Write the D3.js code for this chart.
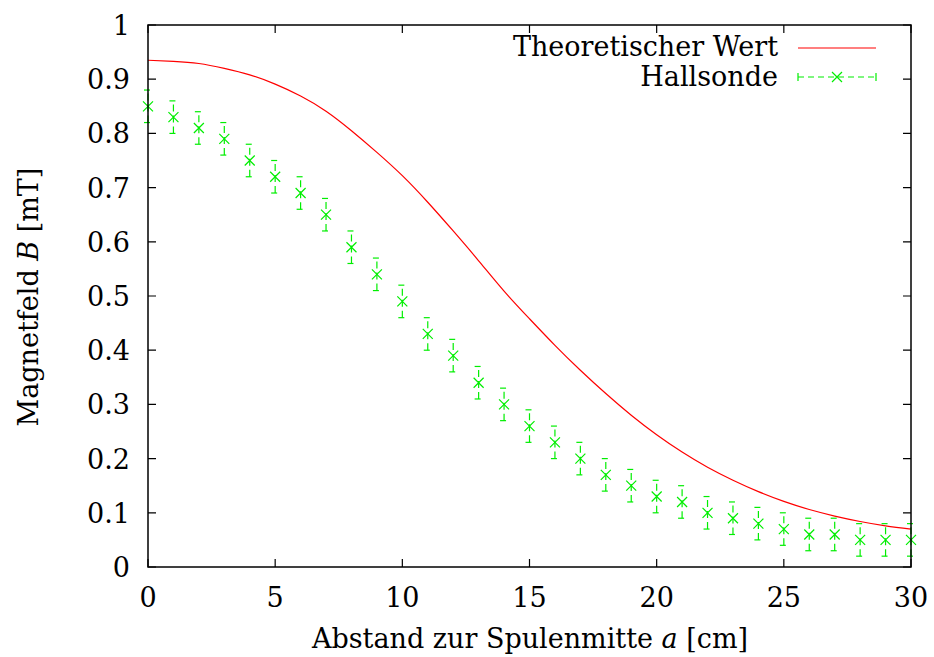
<!DOCTYPE html>
<html>
<head>
<meta charset="utf-8">
<style>
  body { margin: 0; background: #fff; }
</style>
</head>
<body>
<script src="https://cdn.jsdelivr.net/npm/d3@7"></script>
<script>
  // data
  var abstand = [0, 1, 2, 3, 4, 5, 6, 7, 8, 9, 10, 11, 12, 13, 14, 15, 16, 17, 18, 19, 20,
                 21, 22, 23, 24, 25, 26, 27, 28, 29, 30];
  var hallsonde = [0.85, 0.83, 0.81, 0.79, 0.75, 0.72, 0.69, 0.65, 0.59, 0.54, 0.49, 0.43, 0.39,
                   0.34, 0.30, 0.26, 0.23, 0.20, 0.17, 0.15, 0.13, 0.12, 0.10, 0.09, 0.08, 0.07,
                   0.06, 0.06, 0.05, 0.05, 0.05];
  var fehler = 0.03;
  var theorie = [0.935, 0.933, 0.929, 0.920, 0.908, 0.891, 0.869, 0.841, 0.805, 0.765, 0.722,
                 0.673, 0.620, 0.565, 0.509, 0.458, 0.409, 0.363, 0.320, 0.280, 0.244, 0.212,
                 0.184, 0.160, 0.139, 0.121, 0.106, 0.094, 0.084, 0.076, 0.070];
  var xTicks = [0, 5, 10, 15, 20, 25, 30];
  var yTicks = [0, 0.1, 0.2, 0.3, 0.4, 0.5, 0.6, 0.7, 0.8, 0.9, 1];

  var width = 934, height = 657;
  var margin = {top: 25, right: 23, bottom: 90, left: 148};
  var w = width - margin.left - margin.right;
  var h = height - margin.top - margin.bottom;
  var font = "'DejaVu Serif', 'Liberation Serif', serif";
  var fs = 27;

  var x = d3.scaleLinear().domain([0, 30]).range([0, w]);
  var y = d3.scaleLinear().domain([0, 1]).range([h, 0]);

  var svg = d3.select("body").append("svg")
      .attr("width", width)
      .attr("height", height)
      .attr("font-family", font);
  var g = svg.append("g")
      .attr("transform", "translate(" + margin.left + "," + margin.top + ")");

  var green = "#00ee00", red = "#ff0000";

  // theory curve
  var line = d3.line()
      .x(function(d, i) { return x(abstand[i]); })
      .y(function(d) { return y(d); })
      .curve(d3.curveNatural);
  g.append("path")
      .datum(theorie)
      .attr("d", line)
      .attr("fill", "none")
      .attr("stroke", red)
      .attr("stroke-width", 1.2);

  // error bars
  var pts = abstand.map(function(a, i) { return {a: a, b: hallsonde[i]}; });
  var eb = g.selectAll(".eb").data(pts).enter().append("g").attr("class", "eb")
      .attr("stroke", green).attr("stroke-width", 1.2).attr("fill", "none");
  eb.append("line")
      .attr("x1", function(d) { return x(d.a); })
      .attr("x2", function(d) { return x(d.a); })
      .attr("y1", function(d) { return y(d.b - fehler); })
      .attr("y2", function(d) { return y(d.b + fehler); })
      .attr("stroke-dasharray", "7,4");
  [-fehler, fehler].forEach(function(s) {
    eb.append("line")
        .attr("x1", function(d) { return x(d.a) - 4; })
        .attr("x2", function(d) { return x(d.a) + 2; })
        .attr("y1", function(d) { return y(d.b + s); })
        .attr("y2", function(d) { return y(d.b + s); });
  });
  eb.append("path")
      .attr("d", function(d) {
        var cx = x(d.a), cy = y(d.b), r = 5;
        return "M" + (cx - r) + "," + (cy - r) + "L" + (cx + r) + "," + (cy + r) +
               "M" + (cx - r) + "," + (cy + r) + "L" + (cx + r) + "," + (cy - r);
      });

  // frame and ticks (mirrored, inward)
  g.append("rect").attr("width", w).attr("height", h)
      .attr("fill", "none").attr("stroke", "#000").attr("stroke-width", 1.5);
  var tl = 8;
  g.selectAll(".xt").data(xTicks).enter().append("path")
      .attr("d", function(d) { return "M" + x(d) + "," + h + "v" + (-tl) + "M" + x(d) + ",0v" + tl; })
      .attr("stroke", "#000").attr("stroke-width", 1.2);
  g.selectAll(".yt").data(yTicks).enter().append("path")
      .attr("d", function(d) { return "M0," + y(d) + "h" + tl + "M" + w + "," + y(d) + "h" + (-tl); })
      .attr("stroke", "#000").attr("stroke-width", 1.2);

  g.selectAll(".xl").data(xTicks).enter().append("text")
      .attr("x", function(d) { return x(d); })
      .attr("y", h + 40)
      .attr("text-anchor", "middle")
      .attr("font-size", fs)
      .text(function(d) { return d; });
  g.selectAll(".yl").data(yTicks).enter().append("text")
      .attr("x", -18)
      .attr("y", function(d) { return y(d) + 10; })
      .attr("text-anchor", "end")
      .attr("font-size", fs)
      .text(function(d) { return d; });

  // axis titles
  var xt = svg.append("text")
      .attr("x", 530).attr("y", 648)
      .attr("text-anchor", "middle").attr("font-size", fs);
  xt.append("tspan").text("Abstand zur Spulenmitte ");
  xt.append("tspan").attr("font-style", "italic").text("a");
  xt.append("tspan").text(" [cm]");

  var yt = svg.append("text")
      .attr("transform", "translate(38,297) rotate(-90)")
      .attr("text-anchor", "middle").attr("font-size", fs);
  yt.append("tspan").text("Magnetfeld ");
  yt.append("tspan").attr("font-style", "italic").text("B");
  yt.append("tspan").text(" [mT]");

  // legend
  svg.append("text").attr("x", 778).attr("y", 56)
      .attr("text-anchor", "end").attr("font-size", fs).text("Theoretischer Wert");
  svg.append("line").attr("x1", 798).attr("x2", 876).attr("y1", 48).attr("y2", 48)
      .attr("stroke", red).attr("stroke-width", 1.2);
  svg.append("text").attr("x", 778).attr("y", 86)
      .attr("text-anchor", "end").attr("font-size", fs).text("Hallsonde");
  var lg = svg.append("g").attr("stroke", green).attr("stroke-width", 1.2).attr("fill", "none");
  lg.append("line").attr("x1", 798).attr("x2", 876).attr("y1", 77).attr("y2", 77)
      .attr("stroke-dasharray", "6,4");
  lg.append("path").attr("d", "M798,73v8M876,73v8M832,72l10,10M832,82l10,-10");
</script>
</body>
</html>
